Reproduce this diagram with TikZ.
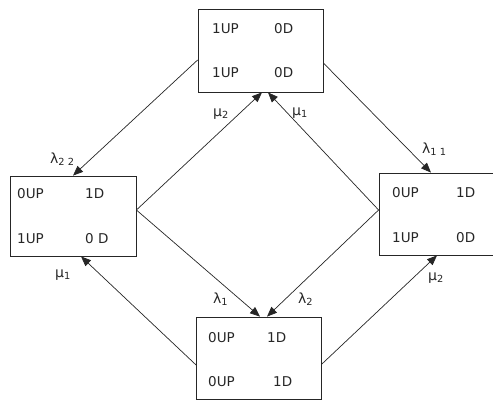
\documentclass[tikz,border=0pt]{standalone}
\usepackage{fontspec}
\setmainfont{DejaVu Sans}
\usetikzlibrary{arrows.meta}

\tikzset{
    box/.style={draw=black!85, line width=0.8pt, rectangle, inner sep=0pt,
        minimum width=125pt, minimum height=82pt},
    txt/.style={anchor=base west, inner sep=0pt, text=black!85,
        font=\fontsize{13.5}{15}\selectfont},
    lbl/.style={txt, font=\fontsize{14}{16}\selectfont},
    arr/.style={draw=black!85, line width=0.7pt,
        -{Triangle[length=10pt,width=8pt]}}
}

\begin{document}
\begin{tikzpicture}[x=1pt, y=-1pt]
        \useasboundingbox (0,0) rectangle (493,400);
        \clip (0,0) rectangle (493,400);

        % the four states
        \node[box, minimum height=83pt] (top) at (260.5, 50.5) {};
        \node[box, minimum width=126pt, minimum height=80pt] (left) at (73, 216) {};
        \node[box, minimum width=126pt] (right) at (442, 214) {};
        \node[box] (bottom) at (259, 358) {};

        \node[txt] (ta) at (212, 33) {1UP};
        \node[txt] (tb) at (274, 33) {0D};
        \node[txt] (tc) at (212, 77) {1UP};
        \node[txt] (td) at (274, 77) {0D};

        \node[txt] (la) at (17, 198) {0UP};
        \node[txt] (lb) at (85, 198) {1D};
        \node[txt] (lc) at (17, 243) {1UP};
        \node[txt] (ld) at (85, 243) {0 D};

        \node[txt] (ra) at (392, 197) {0UP};
        \node[txt] (rb) at (456, 197) {1D};
        \node[txt] (rc) at (392, 242) {1UP};
        \node[txt] (rd) at (456, 242) {0D};

        \node[txt] (ba) at (208, 342) {0UP};
        \node[txt] (bb) at (267, 342) {1D};
        \node[txt] (bc) at (208, 386) {0UP};
        \node[txt] (bd) at (273, 386) {1D};

        % where the side arrows leave
        \coordinate (L) at ([yshift=6pt]left.east);
        \coordinate (R) at ([yshift=4pt]right.west);

        \draw[arr] ([yshift=-9.5pt]top.west) -- (left.north);
        \draw[arr] ([yshift=-12.5pt]top.east) -- ([xshift=-11pt]right.north);
        \draw[arr] (L) -- ([xshift=1.5pt]top.south);
        \draw[arr] (R) -- ([xshift=7.5pt]top.south);
        \draw[arr] (L) -- ([xshift=1pt]bottom.north);
        \draw[arr] (R) -- ([xshift=8pt]bottom.north);
        \draw[arr] ([yshift=-7pt]bottom.west) -- ([xshift=8pt]left.south);
        \draw[arr] ([yshift=-6pt]bottom.east) -- ([xshift=-5pt]right.south);

        % rates
        \node[lbl] (lam22) at (50, 163) {λ\textsubscript{2 2}};
        \node[lbl] (lam11) at (422, 153) {λ\textsubscript{1 1}};
        \node[lbl] (mu2t) at (213, 116) {μ\textsubscript{2}};
        \node[lbl] (mu1t) at (292, 115) {μ\textsubscript{1}};
        \node[lbl] (lam1) at (213, 303) {λ\textsubscript{1}};
        \node[lbl] (lam2) at (298, 303) {λ\textsubscript{2}};
        \node[lbl] (mu1b) at (55, 277) {μ\textsubscript{1}};
        \node[lbl] (mu2b) at (428, 280) {μ\textsubscript{2}};
    \end{tikzpicture}
\end{document}
